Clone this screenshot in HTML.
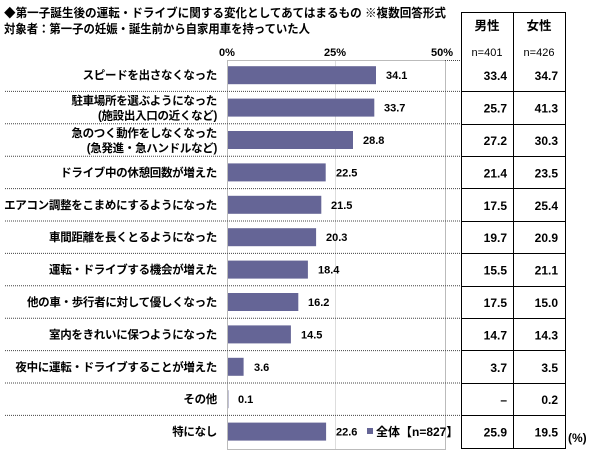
<!DOCTYPE html>
<html><head><meta charset="utf-8"><style>
body{margin:0;background:#fff;width:600px;height:454px;overflow:hidden}
svg{display:block}
text{font-family:"Liberation Sans","Noto Sans CJK JP",sans-serif;fill:#000}
.l{font-size:11.5px;font-weight:bold;text-anchor:end;letter-spacing:-0.3px}
.v{font-size:11px;font-weight:bold}
.t{font-size:12px;font-weight:bold;text-anchor:end}
</style></head><body>
<svg width="600" height="454" xmlns="http://www.w3.org/2000/svg">
<text x="4" y="17" font-size="12" font-weight="bold" textLength="442" lengthAdjust="spacingAndGlyphs">◆第一子誕生後の運転・ドライブに関する変化としてあてはまるもの ※複数回答形式</text>
<text x="4" y="33" font-size="12" font-weight="bold" textLength="306" lengthAdjust="spacingAndGlyphs">対象者：第一子の妊娠・誕生前から自家用車を持っていた人</text>
<g font-size="11" font-weight="bold">
<text x="227" y="56" text-anchor="middle">0%</text>
<text x="335" y="56" text-anchor="middle">25%</text>
<text x="442" y="56" text-anchor="middle">50%</text>
</g>
<line x1="335.5" y1="60" x2="335.5" y2="450" stroke="#ddd"/>
<rect x="227.5" y="60.5" width="218" height="389" fill="none" stroke="#bbb"/>
<line x1="445" y1="60.5" x2="461" y2="60.5" stroke="#444" stroke-dasharray="1,1"/>
<g stroke="#444" stroke-dasharray="1,1">
<line x1="5" y1="91.4" x2="461" y2="91.4"/><line x1="5" y1="123.8" x2="461" y2="123.8"/>
<line x1="5" y1="156.2" x2="461" y2="156.2"/><line x1="5" y1="188.6" x2="461" y2="188.6"/>
<line x1="5" y1="221" x2="461" y2="221"/><line x1="5" y1="253.4" x2="461" y2="253.4"/>
<line x1="5" y1="285.8" x2="461" y2="285.8"/><line x1="5" y1="318.2" x2="461" y2="318.2"/>
<line x1="5" y1="350.6" x2="461" y2="350.6"/><line x1="5" y1="383" x2="461" y2="383"/>
<line x1="5" y1="415.4" x2="461" y2="415.4"/>
</g>
<g stroke="#000">
<line x1="461" y1="91.5" x2="566" y2="91.5"/><line x1="461" y1="124.5" x2="566" y2="124.5"/>
<line x1="461" y1="156.5" x2="566" y2="156.5"/><line x1="461" y1="188.5" x2="566" y2="188.5"/>
<line x1="461" y1="221.5" x2="566" y2="221.5"/><line x1="461" y1="253.5" x2="566" y2="253.5"/>
<line x1="461" y1="286.5" x2="566" y2="286.5"/><line x1="461" y1="318.5" x2="566" y2="318.5"/>
<line x1="461" y1="350.5" x2="566" y2="350.5"/><line x1="461" y1="383.5" x2="566" y2="383.5"/>
<line x1="461" y1="415.5" x2="566" y2="415.5"/>
</g>
<g fill="#656596">
<rect x="228" y="66.2" width="148" height="18"/>
<rect x="228" y="98.6" width="146.3" height="18"/>
<rect x="228" y="131" width="125" height="18"/>
<rect x="228" y="163.4" width="97.7" height="18"/>
<rect x="228" y="195.8" width="93.3" height="18"/>
<rect x="228" y="228.2" width="88.1" height="18"/>
<rect x="228" y="260.6" width="79.9" height="18"/>
<rect x="228" y="293" width="70.3" height="18"/>
<rect x="228" y="325.4" width="62.9" height="18"/>
<rect x="228" y="357.8" width="15.6" height="18"/>
<rect x="228" y="390.2" width="0.4" height="18"/>
<rect x="228" y="422.6" width="98.1" height="18"/>
</g>
<g class="v">
<text x="386" y="79.2">34.1</text>
<text x="384" y="111.6">33.7</text>
<text x="363" y="144">28.8</text>
<text x="336" y="176.4">22.5</text>
<text x="331" y="208.8">21.5</text>
<text x="326" y="241.2">20.3</text>
<text x="318" y="273.6">18.4</text>
<text x="308" y="306">16.2</text>
<text x="301" y="338.4">14.5</text>
<text x="254" y="370.8">3.6</text>
<text x="238" y="403.2">0.1</text>
<text x="336" y="435.6">22.6</text>
</g>
<g class="l">
<text x="217" y="79.2">スピードを出さなくなった</text>
<text x="217" y="104.6">駐車場所を選ぶようになった</text>
<text x="217" y="119.6">(施設出入口の近くなど)</text>
<text x="217" y="137">急のつく動作をしなくなった</text>
<text x="217" y="152">(急発進・急ハンドルなど)</text>
<text x="217" y="176.4">ドライブ中の休憩回数が増えた</text>
<text x="217" y="208.8">エアコン調整をこまめにするようになった</text>
<text x="217" y="241.2">車間距離を長くとるようになった</text>
<text x="217" y="273.6">運転・ドライブする機会が増えた</text>
<text x="217" y="306">他の車・歩行者に対して優しくなった</text>
<text x="217" y="338.4">室内をきれいに保つようになった</text>
<text x="217" y="370.8">夜中に運転・ドライブすることが増えた</text>
<text x="217" y="403.2">その他</text>
<text x="217" y="435.6">特になし</text>
</g>
<g class="t">
<text x="507" y="80.2">33.4</text><text x="558" y="80.2">34.7</text>
<text x="507" y="112.6">25.7</text><text x="558" y="112.6">41.3</text>
<text x="507" y="145">27.2</text><text x="558" y="145">30.3</text>
<text x="507" y="177.4">21.4</text><text x="558" y="177.4">23.5</text>
<text x="507" y="209.8">17.5</text><text x="558" y="209.8">25.4</text>
<text x="507" y="242.2">19.7</text><text x="558" y="242.2">20.9</text>
<text x="507" y="274.6">15.5</text><text x="558" y="274.6">21.1</text>
<text x="507" y="307">17.5</text><text x="558" y="307">15.0</text>
<text x="507" y="339.4">14.7</text><text x="558" y="339.4">14.3</text>
<text x="507" y="371.8">3.7</text><text x="558" y="371.8">3.5</text>
<text x="507" y="404.2">–</text><text x="558" y="404.2">0.2</text>
<text x="507" y="436.6">25.9</text><text x="558" y="436.6">19.5</text>
</g>
<rect x="367" y="428" width="6" height="6" fill="#656596"/>
<text x="376" y="436" font-size="12" font-weight="bold">全体【n=827】</text>
<g stroke="#000" fill="none">
<rect x="461.5" y="12.5" width="104" height="436"/>
<line x1="513.5" y1="12.5" x2="513.5" y2="448.5"/>
</g>
<g font-size="12.5" font-weight="bold" text-anchor="middle">
<text x="487" y="30">男性</text><text x="539" y="30">女性</text>
</g>
<g font-size="11" text-anchor="middle">
<text x="487" y="56">n=401</text><text x="539" y="56">n=426</text>
</g>
<text x="568" y="442" font-size="12" font-weight="bold">(%)</text>
</svg>
</body></html>
